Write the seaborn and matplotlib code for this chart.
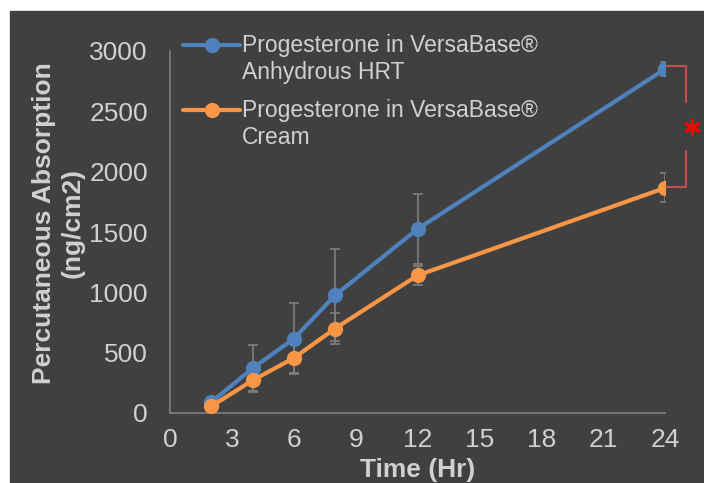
import numpy as np
import pandas as pd
import matplotlib
matplotlib.use('Agg')
import matplotlib.pyplot as plt
from matplotlib.patches import Rectangle
import seaborn as sns

# Data
time_hr = [2, 4, 6, 8, 12, 24]
hrt_mean = [90, 370, 615, 975, 1525, 2850]
hrt_err = [20, 190, 295, 380, 290, 60]
cream_mean = [55, 270, 455, 700, 1140, 1865]
cream_err = [15, 100, 120, 130, 80, 120]
series_labels = ['Progesterone in VersaBase®\nAnhydrous HRT',
                 'Progesterone in VersaBase®\nCream']
x_ticks = [0, 3, 6, 9, 12, 15, 18, 21, 24]
y_ticks = [0, 500, 1000, 1500, 2000, 2500, 3000]

# Styling
BG = '#404040'
TEXT = '#D0D0D0'
AXIS = '#808080'
ERR = '#7F7F7F'
BLUE = '#4F81BD'
ORANGE = '#F79646'
BRACKET = '#C0504D'
W, H = 704, 483

sns.set_theme(style='dark')
plt.rcParams['font.family'] = ['Liberation Sans', 'DejaVu Sans']


def px(x, y):
    """pixel (from top-left) -> figure fraction"""
    return x / W, 1 - y / H


df = pd.concat([
    pd.DataFrame({'Time': time_hr, 'Absorption': hrt_mean, 'Formulation': series_labels[0]}),
    pd.DataFrame({'Time': time_hr, 'Absorption': cream_mean, 'Formulation': series_labels[1]}),
])

fig = plt.figure(figsize=(W / 100, H / 100), dpi=100, facecolor='white')
fig.patches.append(Rectangle(px(10, H), (W - 10) / W, (H - 11) / H,
                             transform=fig.transFigure, color=BG, zorder=-1))

l, t = px(170, 51)
r, b = px(665, 413)
ax = fig.add_axes([l, b, r - l, t - b])
ax.set_facecolor(BG)

# error bars behind the lines
ax.errorbar(time_hr, hrt_mean, yerr=hrt_err, fmt='none', ecolor=ERR,
            elinewidth=1.2, capsize=3.5, capthick=1.2, zorder=1)
ax.errorbar(time_hr, cream_mean, yerr=cream_err, fmt='none', ecolor=ERR,
            elinewidth=1.2, capsize=3.5, capthick=1.2, zorder=1)

sns.lineplot(data=df, x='Time', y='Absorption', hue='Formulation',
             palette=[BLUE, ORANGE], marker='o', markersize=11,
             markeredgewidth=0, linewidth=3, legend=False, ax=ax, zorder=3)

ax.set_xlim(0, 24)
ax.set_ylim(0, 3000)
ax.set_xticks(x_ticks)
ax.set_yticks(y_ticks)
ax.tick_params(axis='both', direction='in', length=6, width=1.2,
               color=AXIS, labelcolor=TEXT, labelsize=19)
ax.tick_params(axis='x', pad=11)
ax.tick_params(axis='y', pad=16)
ax.grid(False)
for side in ['top', 'right']:
    ax.spines[side].set_visible(False)
for side in ['left', 'bottom']:
    ax.spines[side].set_visible(True)
    ax.spines[side].set_color(AXIS)
    ax.spines[side].set_linewidth(1.2)

ax.set_xlabel('Time (Hr)', fontsize=19, fontweight='bold', color=TEXT)
ax.xaxis.set_label_coords(0.5, -0.125)
ax.set_ylabel('Percutaneous Absorption\n(ng/cm2)', fontsize=19,
              fontweight='bold', color=TEXT, linespacing=1.25)
ax.yaxis.set_label_coords(-0.172, 0.525)

# significance bracket between the 24 h points
x0 = time_hr[-1]
x1 = x0 + 1
top, bot = hrt_mean[-1] + 25, cream_mean[-1] + 8
mid = (top + bot) / 2
gap = 200
kw = dict(color=BRACKET, lw=1.5, clip_on=False, zorder=2)
ax.plot([x0, x1, x1], [top, top, mid + gap], **kw)
ax.plot([x0, x1, x1], [bot, bot, mid - gap], **kw)
ax.plot([x1 + 0.32], [mid], marker=(6, 2, 0), markersize=12, mew=2.1,
        color='red', clip_on=False, zorder=2)

# legend drawn Excel-style (marker on the first text line)
for i, (c, lab) in enumerate(zip([BLUE, ORANGE], series_labels)):
    yy = 45 + 65 * i
    xa, ya = px(183, yy)
    xb, _ = px(240, yy)
    xm, _ = px(212, yy)
    fig.add_artist(plt.Line2D([xa, xb], [ya, ya], color=c, lw=3,
                              transform=fig.transFigure))
    fig.add_artist(plt.Line2D([xm], [ya], color=c, marker='o', markersize=11,
                              markeredgewidth=0, transform=fig.transFigure))
    tx, ty = px(242, yy - 11)
    fig.text(tx, ty, lab, color=TEXT, fontsize=16.5, ha='left', va='top',
             linespacing=1.2)

fig.savefig('out.png', dpi=100, facecolor=fig.get_facecolor())
